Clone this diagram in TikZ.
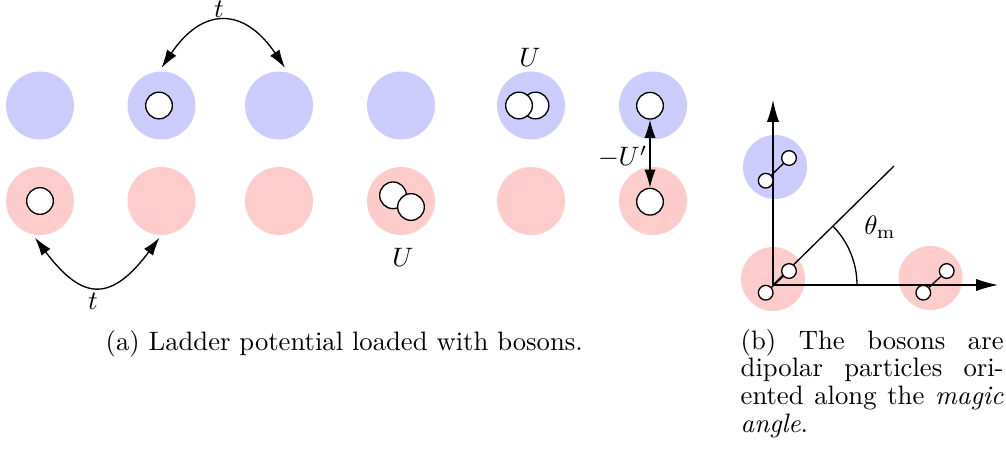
\documentclass[tikz,border=0pt]{standalone}
\usetikzlibrary{arrows.meta,calc}
\begin{document}
\begin{tikzpicture}[x=0.375pt,y=-0.375pt,line width=0.5pt,
  siteA/.style={circle,fill=blue!20,minimum size=25.5pt,inner sep=0pt},
  siteB/.style={circle,fill=red!20,minimum size=25.5pt,inner sep=0pt},
  boson/.style={circle,draw,fill=white,minimum size=10pt,inner sep=0pt},
  dip/.style={circle,draw,fill=white,minimum size=5.5pt,inner sep=0pt},
  hop/.style={{Latex[length=6.8pt,width=4.2pt]}-{Latex[length=6.8pt,width=4.2pt]}},
  axisarrow/.style={-{Latex[length=8.2pt,width=4.6pt]}},
  lbl/.style={inner sep=0pt,font=\fontsize{10pt}{10.4pt}\selectfont}]
\useasboundingbox (0,0) rectangle (1006,458);
% ---- (a) ladder ----
\node[siteA] (a1) at (40,105.5) {};
\node[siteA] (a2) at (161.5,105.5) {};
\node[siteA] (a3) at (279,105.5) {};
\node[siteA] (a4) at (401,105.5) {};
\node[siteA] (a5) at (531,105.5) {};
\node[siteA] (a6) at (653,105.5) {};
\node[siteB] (b1) at (40,201) {};
\node[siteB] (b2) at (161.5,201) {};
\node[siteB] (b3) at (279,201) {};
\node[siteB] (b4) at (401,201) {};
\node[siteB] (b5) at (531,201) {};
\node[siteB] (b6) at (653,201) {};
% bosons
\node[boson] (p1) at (159,105.5) {};
\node[boson] (p2) at (40,201) {};
\node[boson] (p3) at (535.5,105.5) {};
\node[boson] (p4) at (519,105.5) {};
\node[boson] (p5) at (393,195.3) {};
\node[boson] (p6) at (411,207) {};
\node[boson] (q1) at (650,105.7) {};
\node[boson] (q2) at (650,201.7) {};
% hopping
\draw[hop] ($(a2.north)+(0,-3)$) .. controls +(41,-61) and +(-41,-61) .. ($(a3.north)+(6,-3)$);
\draw[hop] ($(b1.south)+(-5,2)$) .. controls +(48,64) and +(-48,64) .. ($(b2.south)+(-2,2)$);
\node[lbl] (t1) at (219,9.5) {$t$};
\node[lbl] (t2) at (93,301) {$t$};
\node[lbl] (u1) at (530,57) {$U$};
\node[lbl] (u2) at (403,257) {$U$};
\draw[hop] (q1.south) -- (q2.north);
\node[lbl,anchor=east] (u3) at (648,157) {$-U'$};
% ---- (b) ----
\node[siteA,minimum size=24pt] (s1) at (775,167) {};
\node[siteB,minimum size=24pt] (s2) at (773,279) {};
\node[siteB,minimum size=24pt] (s3) at (930.5,278) {};
\coordinate (O) at (773,285);
\coordinate (Y) at (773,100);
\coordinate (X) at (998,285);
\coordinate (D) at (894,166);
\draw[axisarrow] (O) -- (Y);
\draw[axisarrow] (O) -- (X);
\draw (O) -- (D);
\draw ($(O)+(84,0)$) arc[start angle=0,end angle=44.5,radius=31.5pt];
\node[lbl] (th) at (880,227) {$\theta_{\mathrm{m}}$};
\node[dip] (d1a) at (789,158) {};
\node[dip] (d1b) at (765.7,180.7) {};
\draw (d1a) -- (d1b);
\node[dip] (d2a) at (789,271) {};
\node[dip] (d2b) at (765.7,292.7) {};
\draw (d2a) -- (d2b);
\node[dip] (d3a) at (946.7,271) {};
\node[dip] (d3b) at (923.3,292.7) {};
\draw (d3a) -- (d3b);
% captions
\node[lbl,anchor=base west] (capa) at (105,350) {(a) Ladder potential loaded with bosons.};
\node[lbl,anchor=base west,text width=98.6pt,align=justify] (capb) at (740,349)
  {(b) The bosons are\linebreak dipolar particles ori-\linebreak ented along the \emph{magic}\linebreak \emph{angle}.};
\end{tikzpicture}
\end{document}
